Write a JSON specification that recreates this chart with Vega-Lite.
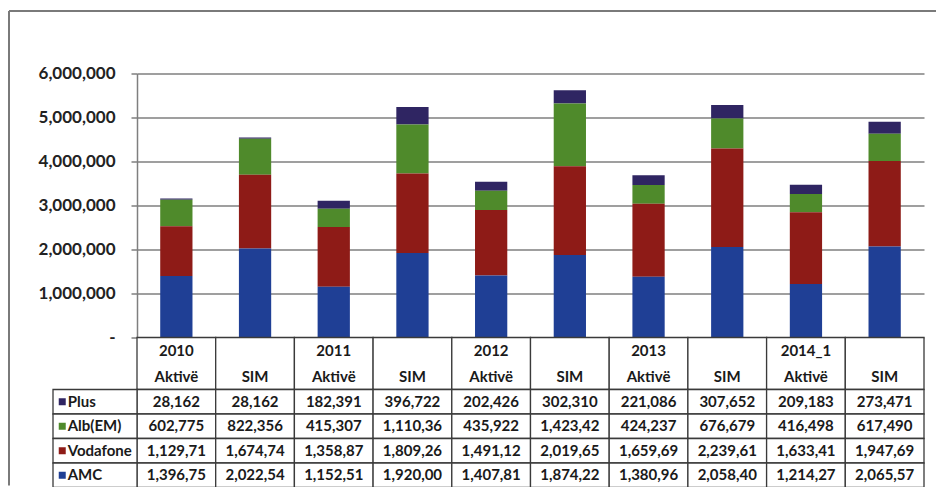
{
  "$schema": "https://vega.github.io/schema/vega-lite/v6.json",
  "padding": {"left": 8, "top": 9.5, "right": 0, "bottom": 0},
  "background": "white",
  "spacing": 0,
  "bounds": "flush",
  "config": {"view": {"stroke": null}, "font": "Lato"},
  "resolve": {"scale": {"x": "independent", "y": "independent"}},
  "datasets": {
    "t": [
      {"col": "2010 Aktivë", "year": "2010", "type": "Aktivë", "op": "Plus", "v": 28162, "lab": "28,162"},
      {"col": "2010 SIM", "year": "", "type": "SIM", "op": "Plus", "v": 28162, "lab": "28,162"},
      {"col": "2011 Aktivë", "year": "2011", "type": "Aktivë", "op": "Plus", "v": 182391, "lab": "182,391"},
      {"col": "2011 SIM", "year": "", "type": "SIM", "op": "Plus", "v": 396722, "lab": "396,722"},
      {"col": "2012 Aktivë", "year": "2012", "type": "Aktivë", "op": "Plus", "v": 202426, "lab": "202,426"},
      {"col": "2012 SIM", "year": "", "type": "SIM", "op": "Plus", "v": 302310, "lab": "302,310"},
      {"col": "2013 Aktivë", "year": "2013", "type": "Aktivë", "op": "Plus", "v": 221086, "lab": "221,086"},
      {"col": "2013 SIM", "year": "", "type": "SIM", "op": "Plus", "v": 307652, "lab": "307,652"},
      {"col": "2014_1 Aktivë", "year": "2014_1", "type": "Aktivë", "op": "Plus", "v": 209183, "lab": "209,183"},
      {"col": "2014_1 SIM", "year": "", "type": "SIM", "op": "Plus", "v": 273471, "lab": "273,471"},
      {"col": "2010 Aktivë", "year": "2010", "type": "Aktivë", "op": "Alb(EM)", "v": 602775, "lab": "602,775"},
      {"col": "2010 SIM", "year": "", "type": "SIM", "op": "Alb(EM)", "v": 822356, "lab": "822,356"},
      {"col": "2011 Aktivë", "year": "2011", "type": "Aktivë", "op": "Alb(EM)", "v": 415307, "lab": "415,307"},
      {"col": "2011 SIM", "year": "", "type": "SIM", "op": "Alb(EM)", "v": 1110360, "lab": "1,110,36"},
      {"col": "2012 Aktivë", "year": "2012", "type": "Aktivë", "op": "Alb(EM)", "v": 435922, "lab": "435,922"},
      {"col": "2012 SIM", "year": "", "type": "SIM", "op": "Alb(EM)", "v": 1423420, "lab": "1,423,42"},
      {"col": "2013 Aktivë", "year": "2013", "type": "Aktivë", "op": "Alb(EM)", "v": 424237, "lab": "424,237"},
      {"col": "2013 SIM", "year": "", "type": "SIM", "op": "Alb(EM)", "v": 676679, "lab": "676,679"},
      {"col": "2014_1 Aktivë", "year": "2014_1", "type": "Aktivë", "op": "Alb(EM)", "v": 416498, "lab": "416,498"},
      {"col": "2014_1 SIM", "year": "", "type": "SIM", "op": "Alb(EM)", "v": 617490, "lab": "617,490"},
      {"col": "2010 Aktivë", "year": "2010", "type": "Aktivë", "op": "Vodafone", "v": 1129710, "lab": "1,129,71"},
      {"col": "2010 SIM", "year": "", "type": "SIM", "op": "Vodafone", "v": 1674740, "lab": "1,674,74"},
      {"col": "2011 Aktivë", "year": "2011", "type": "Aktivë", "op": "Vodafone", "v": 1358870, "lab": "1,358,87"},
      {"col": "2011 SIM", "year": "", "type": "SIM", "op": "Vodafone", "v": 1809260, "lab": "1,809,26"},
      {"col": "2012 Aktivë", "year": "2012", "type": "Aktivë", "op": "Vodafone", "v": 1491120, "lab": "1,491,12"},
      {"col": "2012 SIM", "year": "", "type": "SIM", "op": "Vodafone", "v": 2019650, "lab": "2,019,65"},
      {"col": "2013 Aktivë", "year": "2013", "type": "Aktivë", "op": "Vodafone", "v": 1659690, "lab": "1,659,69"},
      {"col": "2013 SIM", "year": "", "type": "SIM", "op": "Vodafone", "v": 2239610, "lab": "2,239,61"},
      {"col": "2014_1 Aktivë", "year": "2014_1", "type": "Aktivë", "op": "Vodafone", "v": 1633410, "lab": "1,633,41"},
      {"col": "2014_1 SIM", "year": "", "type": "SIM", "op": "Vodafone", "v": 1947690, "lab": "1,947,69"},
      {"col": "2010 Aktivë", "year": "2010", "type": "Aktivë", "op": "AMC", "v": 1396750, "lab": "1,396,75"},
      {"col": "2010 SIM", "year": "", "type": "SIM", "op": "AMC", "v": 2022540, "lab": "2,022,54"},
      {"col": "2011 Aktivë", "year": "2011", "type": "Aktivë", "op": "AMC", "v": 1152510, "lab": "1,152,51"},
      {"col": "2011 SIM", "year": "", "type": "SIM", "op": "AMC", "v": 1920000, "lab": "1,920,00"},
      {"col": "2012 Aktivë", "year": "2012", "type": "Aktivë", "op": "AMC", "v": 1407810, "lab": "1,407,81"},
      {"col": "2012 SIM", "year": "", "type": "SIM", "op": "AMC", "v": 1874220, "lab": "1,874,22"},
      {"col": "2013 Aktivë", "year": "2013", "type": "Aktivë", "op": "AMC", "v": 1380960, "lab": "1,380,96"},
      {"col": "2013 SIM", "year": "", "type": "SIM", "op": "AMC", "v": 2058400, "lab": "2,058,40"},
      {"col": "2014_1 Aktivë", "year": "2014_1", "type": "Aktivë", "op": "AMC", "v": 1214270, "lab": "1,214,27"},
      {"col": "2014_1 SIM", "year": "", "type": "SIM", "op": "AMC", "v": 2065570, "lab": "2,065,57"}
    ]
  },
  "data": {"name": "t"},
  "vconcat": [
    {
      "width": 787,
      "height": 264,
      "resolve": {"scale": {"x": "independent", "y": "independent"}},
      "layer": [
        {
          "transform": [{"calculate": "indexof(['AMC', 'Vodafone', 'Alb(EM)', 'Plus'], datum.op)", "as": "stackOrder"}],
          "mark": {"type": "bar"},
          "encoding": {
            "x": {"field": "col", "type": "nominal", "axis": null,
              "scale": {"domain": ["2010 Aktivë", "2010 SIM", "2011 Aktivë", "2011 SIM", "2012 Aktivë", "2012 SIM", "2013 Aktivë", "2013 SIM", "2014_1 Aktivë", "2014_1 SIM"], "paddingInner": 0.59, "paddingOuter": 0.295}},
            "y": {"field": "v", "type": "quantitative", "stack": "zero",
              "scale": {"domain": [0, 6000000], "nice": false},
              "axis": {"title": null, "values": [0, 1000000, 2000000, 3000000, 4000000, 5000000, 6000000],
                "labelExpr": "datum.value == 0 ? '-\u00a0\u00a0' : format(datum.value, ',')",
                "labelFont": "Lato", "labelFontWeight": "bold", "labelFontSize": 17, "labelColor": "#222222",
                "labelPadding": 16, "labelFlush": false, "tickSize": 6, "tickColor": "#7f7f7f", "tickWidth": 1.5,
                "domainColor": "#7f7f7f", "domainWidth": 1.5, "gridColor": "#7f7f7f", "gridWidth": 1.5, "gridOpacity": 1}},
            "order": {"field": "stackOrder", "type": "quantitative", "sort": "ascending"},
            "color": {"field": "op", "type": "nominal", "legend": null,
              "scale": {"domain": ["AMC", "Vodafone", "Alb(EM)", "Plus"], "range": ["#1f3f95", "#8e1b17", "#4f8a2b", "#2f2562"]}}
          }
        },
        {
          "transform": [{"filter": "datum.op == 'AMC' && datum.col == '2010 Aktivë'"}],
          "layer": [
            {"mark": {"type": "rule", "stroke": "#7a7a7a", "strokeWidth": 2},
              "encoding": {
                "x": {"datum": 0, "type": "quantitative", "axis": null, "scale": {"domain": [0, 1], "range": [-128, 799], "nice": false, "zero": false}},
                "x2": {"datum": 1},
                "y": {"datum": 0, "type": "quantitative", "axis": null, "scale": {"domain": [0, 1], "range": [-62.5, 412], "nice": false, "zero": false}}}},
            {"mark": {"type": "rule", "stroke": "#7a7a7a", "strokeWidth": 2},
              "encoding": {
                "x": {"datum": 0, "type": "quantitative"},
                "y": {"datum": 0, "type": "quantitative"},
                "y2": {"datum": 1}}}
          ]
        }
      ]
    },
    {
      "width": 787,
      "height": 52,
      "transform": [{"filter": "datum.op == 'AMC'"}],
      "encoding": {
        "x": {"field": "col", "type": "nominal", "axis": null,
          "scale": {"domain": ["2010 Aktivë", "2010 SIM", "2011 Aktivë", "2011 SIM", "2012 Aktivë", "2012 SIM", "2013 Aktivë", "2013 SIM", "2014_1 Aktivë", "2014_1 SIM"], "paddingInner": 0, "paddingOuter": 0}}
      },
      "layer": [
        {"mark": {"type": "rect", "fill": "white", "stroke": "#3a3a3a", "strokeWidth": 1.3}},
        {"mark": {"type": "text", "font": "Lato", "fontWeight": "bold", "fontSize": 15, "color": "#1a1a1a"},
          "encoding": {"y": {"datum": "a", "type": "nominal", "axis": null, "scale": {"domain": ["a", "b"], "paddingInner": 0, "paddingOuter": 0}}, "text": {"field": "year"}}},
        {"mark": {"type": "text", "font": "Lato", "fontWeight": "bold", "fontSize": 15, "color": "#1a1a1a"},
          "encoding": {"y": {"datum": "b", "type": "nominal", "axis": null}, "text": {"field": "type"}}}
      ]
    },
    {
      "width": 787,
      "height": 98,
      "resolve": {"scale": {"x": "independent"}},
      "layer": [
        {
          "encoding": {
            "x": {"field": "col", "type": "nominal", "axis": null,
              "scale": {"domain": ["2010 Aktivë", "2010 SIM", "2011 Aktivë", "2011 SIM", "2012 Aktivë", "2012 SIM", "2013 Aktivë", "2013 SIM", "2014_1 Aktivë", "2014_1 SIM"], "paddingInner": 0, "paddingOuter": 0}},
            "y": {"field": "op", "type": "nominal", "axis": null,
              "scale": {"domain": ["Plus", "Alb(EM)", "Vodafone", "AMC"], "paddingInner": 0, "paddingOuter": 0}}
          },
          "layer": [
            {"mark": {"type": "rect", "fill": "white", "stroke": "#3a3a3a", "strokeWidth": 1.3}},
            {"mark": {"type": "text", "font": "Lato", "fontWeight": "bold", "fontSize": 15, "color": "#1a1a1a"},
              "encoding": {"text": {"field": "lab"}}}
          ]
        },
        {
          "transform": [{"filter": "datum.col == '2010 Aktivë'"}],
          "encoding": {
            "y": {"field": "op", "type": "nominal", "axis": null}
          },
          "layer": [
            {"mark": {"type": "rect", "fill": "white", "stroke": "#3a3a3a", "strokeWidth": 1.3},
              "encoding": {"x": {"datum": 0, "type": "quantitative", "axis": null, "scale": {"domain": [0, 1], "range": [-84, 0], "nice": false, "zero": false}}, "x2": {"datum": 1}}},
            {"mark": {"type": "square", "size": 49, "opacity": 1},
              "encoding": {"x": {"datum": 0.11, "type": "quantitative"},
                "color": {"field": "op", "type": "nominal", "legend": null}}},
            {"mark": {"type": "text", "align": "left", "font": "Lato", "fontWeight": "bold", "fontSize": 15, "color": "#1a1a1a"},
              "encoding": {"x": {"datum": 0.175, "type": "quantitative"}, "text": {"field": "op"}}}
          ]
        }
      ]
    }
  ]
}
